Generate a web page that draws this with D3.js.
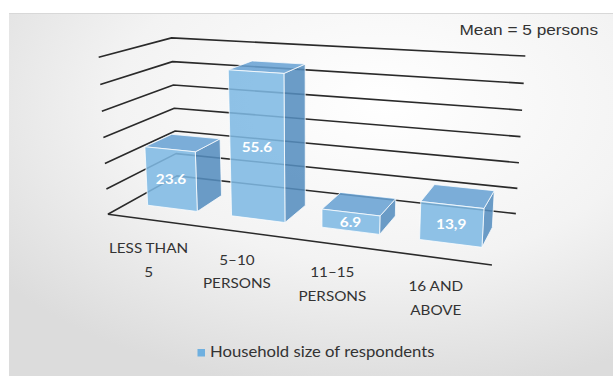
<!DOCTYPE html>
<html><head><meta charset="utf-8">
<script src="https://cdn.jsdelivr.net/npm/d3@7"></script>
<style>html,body{margin:0;padding:0;background:#fff}svg{display:block}</style>
</head><body>
<svg id="chart" width="613" height="376"></svg>
<script>
// ---- data ----
const categories = ["LESS THAN 5", "5–10 PERSONS", "11–15 PERSONS", "16 AND ABOVE"];
const categoryLines = [["LESS THAN", "5"], ["5–10", "PERSONS"], ["11–15", "PERSONS"], ["16 AND", "ABOVE"]];
const values = [23.6, 55.6, 6.9, 13.9];
const valueLabels = ["23.6", "55.6", "6.9", "13,9"];
const yTicks = [0, 10, 20, 30, 40, 50, 60];
const seriesName = "Household size of respondents";
const note = "Mean = 5 persons";

// ---- 3D frame calibration (normalized box X,Y,Z in [0,1] -> screen) ----
const calib = [
  [0,1,0,98.3,57.3],[0,5/6,0,100,85],[0,4/6,0,101.7,110.5],[0,3/6,0,103.3,138],
  [0,2/6,0,105,163.3],[0,1/6,0,106.7,188.3],[0,0,0,108.3,214.5],
  [0,1,1,173,37.3],[0,5/6,1,173,61.7],[0,4/6,1,173,85.5],[0,3/6,1,173,108.3],
  [1,1,1,525.4,56],[1,5/6,1,523.4,83.3],[1,4/6,1,521.5,110],[1,3/6,1,520.7,136.7],
  [1,2/6,1,519.5,163.3],[1,1/6,1,517.6,188.3],[1,0,1,515.6,213.3],[1,0,0,492,265]
];
function fitCamera(pts){
  const n=11, M=Array.from({length:n},()=>new Array(n+1).fill(0));
  const add=(row,rhs)=>{for(let i=0;i<n;i++){for(let j=0;j<n;j++)M[i][j]+=row[i]*row[j];M[i][n]+=row[i]*rhs;}};
  for(const [X,Y,Z,u,v] of pts){
    add([X,Y,Z,1,0,0,0,0,-u*X,-u*Y,-u*Z],u);
    add([0,0,0,0,X,Y,Z,1,-v*X,-v*Y,-v*Z],v);
  }
  for(let c=0;c<n;c++){
    let p=c;for(let r=c+1;r<n;r++)if(Math.abs(M[r][c])>Math.abs(M[p][c]))p=r;
    [M[c],M[p]]=[M[p],M[c]];
    for(let r=0;r<n;r++){if(r===c)continue;const f=M[r][c]/M[c][c];for(let k=c;k<=n;k++)M[r][k]-=f*M[c][k];}
  }
  return M.map((row,i)=>row[n]/row[i]);
}
const P = fitCamera(calib);
function proj(X,Y,Z){
  const w=P[8]*X+P[9]*Y+P[10]*Z+1;
  return [(P[0]*X+P[1]*Y+P[2]*Z+P[3])/w,(P[4]*X+P[5]*Y+P[6]*Z+P[7])/w];
}

// ---- scales ----
const x = d3.scaleBand().domain(categories).range([0,1]).paddingInner(0.40).paddingOuter(0.20).align(0.6);
const y = d3.scaleLinear().domain([0,60]).range([0,1]);
const zFront = 0.27, zBack = 0.66;

const svg = d3.select("#chart");
const defs = svg.append("defs");
const grad = defs.append("radialGradient").attr("id","bg").attr("cx","0.62").attr("cy","0.25").attr("r","0.8");
grad.append("stop").attr("offset","0").attr("stop-color","#ffffff");
grad.append("stop").attr("offset","0.55").attr("stop-color","#f3f3f3");
grad.append("stop").attr("offset","1").attr("stop-color","#dcdcdc");
svg.append("rect").attr("x",9).attr("y",13).attr("width",604).attr("height",363).attr("fill","url(#bg)");
svg.append("line").attr("x1",9).attr("x2",613).attr("y1",13.5).attr("y2",13.5).attr("stroke","#d8d8d8");

const line = d3.line();
const g = svg.append("g");
// gridlines: left wall + back wall
yTicks.forEach(t=>{
  const yy=y(t);
  g.append("path").attr("d",line([proj(0,yy,0),proj(0,yy,1),proj(1,yy,1)]))
   .attr("fill","none").attr("stroke","#2a2a2a").attr("stroke-width",1.6).attr("stroke-linejoin","round");
});
// floor front edge
g.append("path").attr("d",line([proj(0,0,0),proj(1,0,0)])).attr("fill","none").attr("stroke","#2a2a2a").attr("stroke-width",1.6);

// bars
const bars = svg.append("g");
categories.forEach((c,i)=>{
  const x0=x(c), x1=x(c)+x.bandwidth(), h=y(values[i]);
  const faces = [
    {pts:[[x1,0,zFront],[x1,0,zBack],[x1,h,zBack],[x1,h,zFront]], fill:"#558dbf"},
    {pts:[[x0,h,zFront],[x1,h,zFront],[x1,h,zBack],[x0,h,zBack]], fill:"#68a2d3"},
    {pts:[[x0,0,zFront],[x1,0,zFront],[x1,h,zFront],[x0,h,zFront]], fill:"#7eb9e4"}
  ];
  faces.forEach(f=>{
    bars.append("path").attr("d",line(f.pts.map(p=>proj(...p)))+"Z")
      .attr("fill",f.fill).attr("fill-opacity",0.87)
      .attr("stroke","#ffffff").attr("stroke-opacity",0.75).attr("stroke-width",1).attr("stroke-linejoin","round");
  });
  const c0=proj((x0+x1)/2,h/2,zFront);
  bars.append("text").attr("transform",`translate(${c0[0]},${c0[1]+5}) scale(1.1,1)`)
    .attr("text-anchor","middle").attr("font-family","Lato").attr("font-weight","bold")
    .attr("font-size",14).attr("fill","#ffffff").text(valueLabels[i]);
});

// category labels
categories.forEach((c,i)=>{
  const a=proj((i+0.5)/categories.length,0,0);
  categoryLines[i].forEach((s,j)=>{
    svg.append("text").attr("transform",`translate(${a[0]-1},${a[1]+33.5+j*23.5}) scale(1.13,1)`)
      .attr("text-anchor","middle").attr("font-family","Lato").attr("font-size",13.5)
      .attr("fill","#333").text(s);
  });
});

// legend
const lg = svg.append("g");
lg.append("rect").attr("x",197.5).attr("y",349).attr("width",7.5).attr("height",7.5).attr("fill","#6fb0e0");
lg.append("text").attr("transform","translate(210,357) scale(1.15,1)").attr("font-family","Lato")
  .attr("font-size",14.5).attr("fill","#333").text(seriesName);

// note
svg.append("text").attr("transform","translate(598,35) scale(1.15,1)").attr("text-anchor","end")
  .attr("font-family","Liberation Sans").attr("font-size",15).attr("fill","#333").text(note);
</script>
</body></html>
